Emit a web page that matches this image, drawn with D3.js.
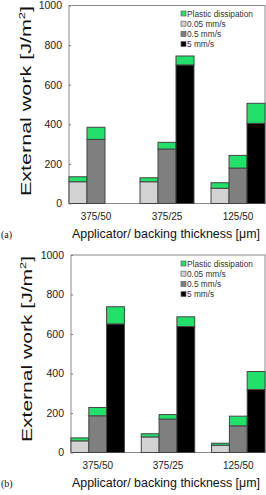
<!DOCTYPE html>
<html>
<head>
<meta charset="utf-8">
<script src="https://cdn.jsdelivr.net/npm/d3@7"></script>
<style>
body { margin: 0; background: #fff; }
svg { display: block; font-family: Arial, "Liberation Sans", sans-serif; }
</style>
</head>
<body>
<svg width="266" height="495"></svg>
<script>
var categories = ["375/50", "375/25", "125/50"];
var speeds = ["0.05 mm/s", "0.5 mm/s", "5 mm/s"];
var legendLabels = ["Plastic dissipation", "0.05 mm/s", "0.5 mm/s", "5 mm/s"];
var yTicks = [0, 200, 400, 600, 800, 1000];

// panel (a): elastic part and plastic dissipation on top, per speed
var aBase005 = [110, 110, 77];
var aPlastic005 = [25, 20, 28];
var aBase05 = [324, 275, 179];
var aPlastic05 = [61, 34, 64];
var aBase5 = [0, 700, 405];
var aPlastic5 = [0, 45, 101];

// panel (b)
var bBase005 = [59, 79, 37];
var bPlastic005 = [15, 16, 10];
var bBase05 = [186, 169, 135];
var bPlastic05 = [42, 23, 49];
var bBase5 = [651, 638, 319];
var bPlastic5 = [87, 49, 91];

var speedColor = d3.scaleOrdinal().domain(speeds).range(["#d2d2d2", "#7f7f7f", "#000000"]);
var green = "#22e06a";

var svg = d3.select("svg");

function panel(p) {
	var g = svg.append("g");
	var x = d3.scaleBand().domain(categories).range([p.left, p.right]).paddingInner(0.24).paddingOuter(0);
	var xs = d3.scaleBand().domain(speeds).range([0, x.bandwidth()]);
	var y = d3.scaleLinear().domain([0, 1000]).range([p.bottom, p.top]);

	// frame
	g.append("rect").attr("x", p.left).attr("y", y(1000)).attr("width", p.right - p.left)
		.attr("height", y(0) - y(1000)).attr("fill", "none").attr("stroke", "#8a8a8a").attr("stroke-width", 1);

	var rows = [];
	speeds.forEach(function(s, si) {
		categories.forEach(function(c, ci) {
			rows.push({cat: c, speed: s, base: p.base[si][ci], plastic: p.plastic[si][ci]});
		});
	});

	var bar = g.selectAll(".bar").data(rows.filter(function(d) { return d.base + d.plastic > 0; }))
		.enter().append("g").attr("class", "bar");
	bar.append("rect")
		.attr("x", function(d) { return x(d.cat) + xs(d.speed); })
		.attr("y", function(d) { return y(d.base); })
		.attr("width", xs.bandwidth())
		.attr("height", function(d) { return y(0) - y(d.base); })
		.attr("fill", function(d) { return speedColor(d.speed); })
		.attr("stroke", "#444").attr("stroke-width", 1);
	bar.append("rect")
		.attr("x", function(d) { return x(d.cat) + xs(d.speed); })
		.attr("y", function(d) { return y(d.base + d.plastic); })
		.attr("width", xs.bandwidth())
		.attr("height", function(d) { return y(d.base) - y(d.base + d.plastic); })
		.attr("fill", green)
		.attr("stroke", "#444").attr("stroke-width", 1);

	// y axis
	var ya = g.append("g").attr("transform", "translate(" + p.left + ",0)")
		.call(d3.axisLeft(y).tickValues(yTicks).tickFormat(d3.format("d")).tickSizeInner(-2).tickSizeOuter(0).tickPadding(7));
	ya.select(".domain").remove();
	ya.selectAll("line").attr("stroke", "#777");
	ya.selectAll("text").attr("font-size", 10.5).attr("fill", "#222").attr("font-family", "Arial, sans-serif");

	// x axis labels
	var xa = g.append("g").attr("transform", "translate(0," + p.bottom + ")")
		.call(d3.axisBottom(x).tickSize(0).tickPadding(9));
	xa.select(".domain").remove();
	xa.selectAll("text").attr("font-size", 10).attr("fill", "#222").attr("font-family", "Arial, sans-serif");

	g.append("text").attr("x", 166).attr("y", p.titleY)
		.attr("text-anchor", "middle").attr("font-size", 12.5).attr("fill", "#111")
		.attr("textLength", 188).attr("lengthAdjust", "spacingAndGlyphs")
		.text("Applicator/ backing thickness [\u03bcm]");

	g.append("text").attr("transform", "translate(" + p.ylabX + "," + p.ylabY + ") rotate(-90)")
		.attr("text-anchor", "middle").attr("font-size", 15).attr("fill", "#111")
		.attr("textLength", p.ylabLen).attr("lengthAdjust", "spacingAndGlyphs")
		.html("External work [J/m<tspan dy='-6' font-size='9'>2</tspan><tspan dy='6'>]</tspan>");

	g.append("text").attr("x", 1).attr("y", p.titleY).attr("font-size", 10)
		.attr("font-family", "'Liberation Serif', 'Times New Roman', serif").attr("fill", "#111")
		.text(p.tag);

	// legend
	var lg = g.append("g").attr("transform", "translate(181," + p.legendY + ")");
	var lcol = [green].concat(speeds.map(function(s) { return speedColor(s); }));
	lg.selectAll("rect").data(legendLabels).enter().append("rect")
		.attr("x", 0).attr("y", function(d, i) { return i * 10.2 - 2.5; })
		.attr("width", 5).attr("height", 5)
		.attr("fill", function(d, i) { return lcol[i]; })
		.attr("stroke", "#666").attr("stroke-width", 0.7);
	lg.selectAll("text").data(legendLabels).enter().append("text")
		.attr("x", 6).attr("y", function(d, i) { return i * 10.2 + 3; })
		.attr("font-size", 8.3).attr("fill", "#333")
		.text(function(d) { return d; });
}

panel({left: 69, right: 265, top: 5.5, bottom: 203.5, titleY: 238, ylabX: 31, ylabY: 101, ylabLen: 190,
	tag: "(a)", legendY: 13.5,
	base: [aBase005, aBase05, aBase5], plastic: [aPlastic005, aPlastic05, aPlastic5]});
panel({left: 71, right: 265, top: 255, bottom: 452.5, titleY: 487, ylabX: 32, ylabY: 349, ylabLen: 186,
	tag: "(b)", legendY: 263.5,
	base: [bBase005, bBase05, bBase5], plastic: [bPlastic005, bPlastic05, bPlastic5]});
</script>
</body>
</html>
